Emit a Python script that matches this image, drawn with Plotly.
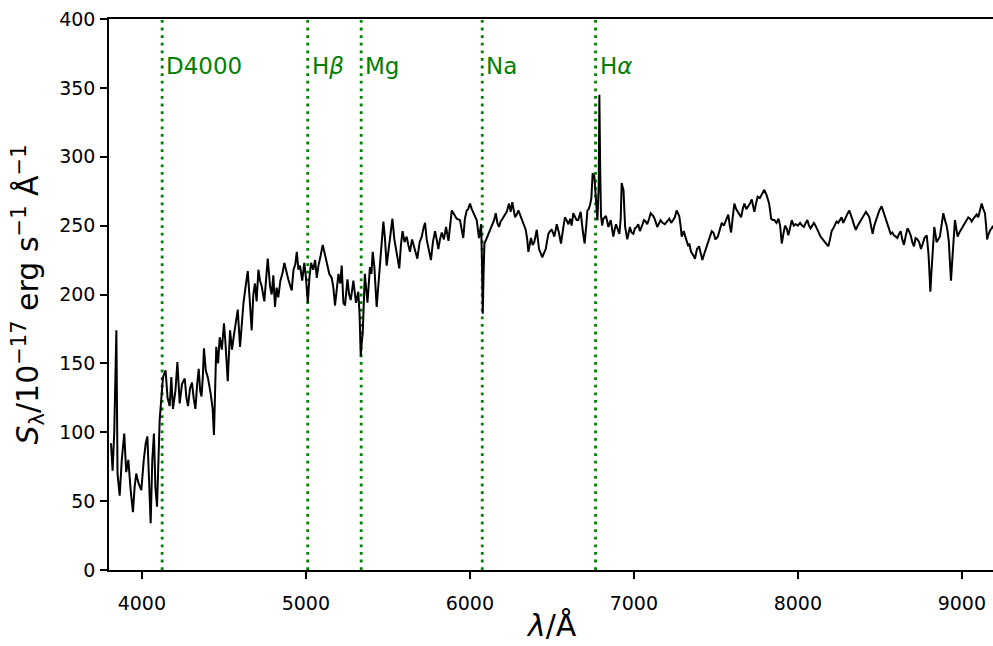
import plotly.graph_objects as go

# Observed-frame spectrum (wavelength in Angstrom, flux in 1e-17 erg/s/A)
wavelength = [
    3812, 3822, 3832, 3845, 3852, 3865, 3878, 3893, 3905, 3918, 3932, 3946, 3956, 3966, 3980,
    3997, 4012, 4024, 4034, 4044, 4054, 4064, 4074, 4083, 4093, 4109, 4120, 4129, 4145, 4157,
    4170, 4180, 4190, 4205, 4217, 4231, 4245, 4262, 4272, 4282, 4294, 4306, 4317, 4327, 4337,
    4347, 4356, 4364, 4372, 4379, 4390, 4404, 4420, 4432, 4440, 4454, 4465, 4475, 4488, 4501,
    4510, 4518, 4524, 4538, 4550, 4560, 4572, 4585, 4599, 4610, 4620, 4632, 4646, 4657, 4670,
    4680, 4690, 4700, 4711, 4721, 4731, 4747, 4758, 4768, 4782, 4792, 4802, 4812, 4822, 4832,
    4845, 4857, 4869, 4881, 4893, 4914, 4925, 4936, 4945, 4955, 4965, 4978, 4991, 5001, 5012,
    5022, 5032, 5045, 5057, 5067, 5077, 5090, 5103, 5115, 5128, 5143, 5158, 5168, 5178, 5190,
    5199, 5210, 5219, 5229, 5239, 5254, 5264, 5274, 5290, 5306, 5320, 5328, 5335, 5341, 5347,
    5360, 5368, 5376, 5391, 5400, 5408, 5418, 5432, 5445, 5457, 5473, 5483, 5493, 5504, 5514,
    5528, 5540, 5550, 5560, 5570, 5580, 5590, 5602, 5615, 5625, 5635, 5648, 5660, 5670, 5680,
    5694, 5707, 5717, 5727, 5737, 5747, 5755, 5763, 5775, 5788, 5798, 5808, 5818, 5829, 5842,
    5855, 5870, 5880, 5890, 5905, 5920, 5940, 5950, 5960, 5970, 5981, 5990, 6001, 6012, 6022,
    6032, 6042, 6056, 6069, 6074, 6079, 6084, 6089, 6100, 6113, 6125, 6137, 6148, 6158, 6168,
    6178, 6188, 6199, 6212, 6225, 6239, 6249, 6259, 6268, 6276, 6286, 6296, 6306, 6317, 6330,
    6341, 6350, 6357, 6365, 6373, 6383, 6393, 6400, 6408, 6415, 6422, 6432, 6442, 6452, 6463,
    6470, 6479, 6489, 6499, 6507, 6515, 6522, 6530, 6543, 6556, 6568, 6580, 6590, 6601, 6612,
    6621, 6631, 6641, 6651, 6661, 6676, 6688, 6700, 6710, 6717, 6725, 6733, 6741, 6749, 6759,
    6765, 6770, 6778, 6786, 6790, 6795, 6800, 6807, 6814, 6830, 6838, 6845, 6859, 6867, 6875,
    6883, 6891, 6900, 6912, 6920, 6926, 6932, 6937, 6942, 6947, 6960, 6968, 6976, 6986, 6997,
    7007, 7017, 7027, 7037, 7050, 7062, 7072, 7082, 7093, 7103, 7119, 7130, 7143, 7153, 7163,
    7175, 7189, 7203, 7216, 7228, 7240, 7250, 7261, 7270, 7277, 7285, 7292, 7304, 7312, 7322,
    7332, 7338, 7349, 7360, 7373, 7385, 7398, 7408, 7418, 7428, 7439, 7452, 7465, 7475, 7485,
    7498, 7512, 7524, 7536, 7549, 7561, 7576, 7585, 7593, 7603, 7613, 7624, 7634, 7644, 7654,
    7664, 7674, 7686, 7698, 7708, 7719, 7727, 7735, 7745, 7755, 7768, 7780, 7796, 7810, 7825,
    7832, 7837, 7847, 7857, 7870, 7882, 7892, 7902, 7912, 7922, 7932, 7942, 7952, 7963, 7975,
    7987, 8000, 8014, 8026, 8037, 8048, 8058, 8068, 8078, 8088, 8098, 8108, 8119, 8129, 8139,
    8152, 8165, 8176, 8186, 8196, 8206, 8216, 8226, 8236, 8246, 8257, 8267, 8277, 8287, 8300,
    8314, 8324, 8334, 8344, 8354, 8365, 8375, 8385, 8395, 8405, 8415, 8426, 8436, 8446, 8456,
    8466, 8476, 8487, 8497, 8511, 8525, 8536, 8546, 8556, 8566, 8576, 8586, 8597, 8607, 8617,
    8627, 8637, 8647, 8657, 8668, 8678, 8688, 8698, 8708, 8718, 8729, 8740, 8751, 8762, 8772,
    8786, 8797, 8803, 8808, 8814, 8820, 8832, 8840, 8846, 8856, 8866, 8876, 8887, 8897, 8907,
    8914, 8921, 8928, 8934, 8940, 8946, 8958, 8966, 8974, 8985, 8995, 9007, 9019, 9029, 9039,
    9050, 9060, 9070, 9080, 9090, 9100, 9110, 9121, 9131, 9141, 9148, 9154, 9160, 9166, 9174,
    9182, 9190,
]

flux = [
    92, 72, 100, 174, 70, 54, 80, 99, 71, 80, 58, 42, 60, 70, 63,
    58, 80, 92, 97, 70, 34, 80, 99, 60, 46, 109, 128, 140, 145, 125,
    119, 140, 117, 130, 151, 121, 135, 139, 125, 119, 132, 136, 124, 117, 134,
    146, 130, 126, 140, 161, 145, 139, 128, 117, 98, 162, 150, 169, 160, 179,
    165, 152, 137, 174, 160, 169, 178, 189, 162, 180, 194, 205, 217, 198, 174,
    200, 208, 195, 218, 210, 206, 195, 210, 226, 206, 200, 214, 191, 205, 198,
    210, 215, 223, 216, 211, 203, 218, 222, 231, 218, 221, 210, 223, 212, 194,
    212, 223, 218, 225, 212, 221, 228, 236, 230, 223, 215, 212, 205, 192, 208,
    215, 208, 221, 194, 192, 211, 200, 196, 210, 194, 202, 185, 155, 165, 172,
    215, 205, 194, 220, 215, 231, 220, 191, 215, 229, 253, 240, 221, 232, 239,
    255, 240, 233, 228, 219, 236, 246, 238, 242, 236, 231, 240, 235, 232, 226,
    238, 242, 248, 252, 240, 235, 230, 225, 238, 246, 240, 233, 240, 245, 240,
    249, 239, 252, 261, 258, 255, 254, 248, 241, 255, 261, 262, 266, 262, 259,
    257, 254, 241, 251, 225, 186, 215, 237, 240, 244, 248, 251, 254, 259, 252,
    249, 253, 255, 258, 260, 266, 260, 267, 262, 256, 258, 261, 258, 254, 250,
    247, 240, 231, 236, 241, 236, 238, 242, 247, 240, 233, 230, 227, 230, 233,
    238, 244, 246, 247, 245, 242, 246, 251, 245, 237, 247, 256, 254, 251, 255,
    250, 259, 257, 254, 254, 260, 247, 237, 250, 261, 262, 265, 270, 288, 286,
    275, 264, 254, 280, 345, 290, 257, 250, 255, 257, 252, 249, 254, 248, 242,
    247, 251, 248, 244, 255, 281, 278, 276, 262, 249, 240, 246, 249, 245, 244,
    248, 249, 251, 246, 250, 254, 253, 251, 255, 259, 257, 254, 249, 252, 254,
    252, 251, 253, 255, 252, 254, 256, 261, 259, 257, 250, 242, 246, 243, 238,
    235, 237, 231, 229, 226, 233, 235, 230, 225, 229, 233, 239, 244, 246, 245,
    240, 242, 247, 252, 250, 254, 258, 250, 245, 256, 266, 262, 260, 258, 256,
    262, 266, 262, 264, 266, 269, 264, 260, 266, 271, 270, 273, 276, 272, 266,
    260, 255, 254, 254, 252, 255, 250, 237, 244, 250, 248, 243, 248, 254, 250,
    251, 250, 252, 250, 249, 252, 254, 250, 248, 250, 252, 250, 247, 245, 242,
    240, 238, 236, 235, 240, 246, 248, 250, 253, 252, 254, 256, 252, 255, 258,
    261, 258, 254, 250, 247, 250, 252, 255, 257, 259, 260, 258, 256, 250, 244,
    250, 254, 258, 261, 264, 259, 255, 252, 248, 244, 245, 243, 242, 241, 244,
    246, 240, 236, 242, 248, 246, 243, 238, 235, 241, 240, 238, 233, 237, 241,
    243, 229, 215, 202, 215, 229, 249, 243, 238, 240, 242, 250, 259, 254, 250,
    245, 238, 222, 210, 222, 233, 254, 248, 242, 245, 247, 250, 252, 254, 256,
    255, 253, 255, 257, 258, 256, 261, 266, 262, 259, 250, 240, 243, 245, 247,
    248, 250,
]

# Spectral features: rest-frame wavelengths and the source redshift
redshift = 0.031
line_names = ["D4000", "H<i>β</i>", "Mg", "Na", "H<i>α</i>"]
line_rest = [4000, 4861, 5177, 5893, 6563]
label_flux = 366

x_ticks = [4000, 5000, 6000, 7000, 8000, 9000]
y_ticks = [0, 50, 100, 150, 200, 250, 300, 350, 400]

FONT = "DejaVu Sans"
GREEN = "#008000"

fig = go.Figure()

fig.add_trace(go.Scatter(
    x=wavelength, y=flux, mode="lines",
    line=dict(color="black", width=2.0),
    showlegend=False, hoverinfo="skip",
))

for name, rest in zip(line_names, line_rest):
    obs = rest * (1 + redshift)
    fig.add_shape(
        type="line", xref="x", yref="paper", x0=obs, x1=obs, y0=0, y1=1,
        line=dict(color=GREEN, width=2.8, dash="2.8px,4.8px"), layer="below",
    )
    fig.add_annotation(
        x=obs, y=label_flux, xref="x", yref="y", text=name, showarrow=False,
        xanchor="left", yanchor="middle", xshift=2,
        font=dict(family=FONT, size=23, color=GREEN),
    )

# Axis titles
fig.add_annotation(
    x=-0.0916, y=0.5, xref="paper", yref="paper", textangle=-90,
    text="<i>S</i><sub>λ</sub>/10<sup>−17</sup> erg s<sup>−1</sup> Å<sup>−1</sup>",
    showarrow=False, xanchor="center", yanchor="middle",
    font=dict(family=FONT, size=30, color="black"),
)
fig.add_annotation(
    x=0.5, y=-0.1, xref="paper", yref="paper",
    text="<i>λ</i>/Å", showarrow=False, xanchor="center", yanchor="middle",
    font=dict(family=FONT, size=30, color="black"),
)

axis_common = dict(
    showgrid=False, zeroline=False, showline=True, linecolor="black", linewidth=1.6,
    ticks="outside", ticklen=7, tickwidth=1.5, tickcolor="black",
    tickfont=dict(family=FONT, size=19, color="black"),
)

fig.update_xaxes(range=[3800, 9190], tickvals=x_ticks, mirror=True,
                 ticklabelstandoff=8, **axis_common)
fig.update_yaxes(range=[0, 400], tickvals=y_ticks, ticklabelstandoff=1, **axis_common)

fig.update_layout(
    width=993, height=646,
    margin=dict(l=109, r=0, t=19, b=76),
    paper_bgcolor="white", plot_bgcolor="white",
    font=dict(family=FONT),
)

fig.write_html("out.html")
